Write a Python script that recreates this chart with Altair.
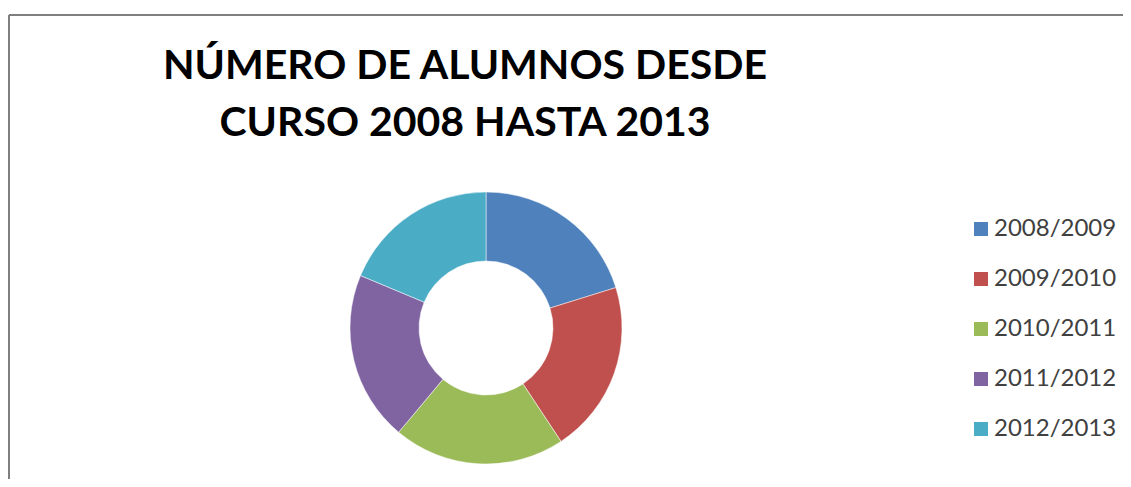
import altair as alt
import pandas as pd

cursos = ["2008/2009", "2009/2010", "2010/2011", "2011/2012", "2012/2013"]
alumnos = [202, 205, 204, 202, 187]
colores = ["#4F81BD", "#C0504D", "#9BBB59", "#8064A2", "#4BACC6"]
titulo = ["NÚMERO DE ALUMNOS DESDE", "CURSO 2008 HASTA 2013"]

W, H = 1114, 464

df = pd.DataFrame({"curso": cursos, "alumnos": alumnos, "orden": list(range(len(cursos)))})
borde = pd.DataFrame({"k": [0]})

dona = alt.Chart(df).mark_arc(outerRadius=136, innerRadius=67, stroke="#ffffff", strokeWidth=0.5).encode(
    theta=alt.Theta("alumnos:Q", stack=True),
    order=alt.Order("orden:Q"),
    color=alt.Color(
        "curso:N",
        scale=alt.Scale(domain=cursos, range=colores),
        legend=alt.Legend(
            title=None,
            orient="none",
            legendX=960,
            legendY=202,
            symbolType="square",
            symbolSize=196,
            symbolStrokeWidth=0,
            labelFont="Lato",
            labelFontSize=24,
            labelColor="#404040",
            labelOffset=1,
            rowPadding=26,
            padding=0,
        ),
    ),
    x=alt.value(477),
    y=alt.value(313),
)

titulo_capa = alt.Chart(borde).mark_text(
    font="Lato",
    fontSize=41,
    fontWeight="bold",
    color="#000000",
    align="center",
    baseline="alphabetic",
    lineHeight=57,
).encode(
    x=alt.value(456),
    y=alt.value(64),
    text=alt.value(titulo),
)

borde_sup = alt.Chart(borde).mark_rule(color="#7f7f7f", strokeWidth=2).encode(
    x=alt.value(0), x2=alt.value(W), y=alt.value(0)
)
borde_izq = alt.Chart(borde).mark_rule(color="#7f7f7f", strokeWidth=2).encode(
    x=alt.value(0), y=alt.value(0), y2=alt.value(H)
)

chart = alt.layer(borde_sup, borde_izq, dona, titulo_capa).properties(
    width=W,
    height=H,
    padding={"left": 1, "top": 7, "right": 0, "bottom": 0},
    autosize=alt.AutoSizeParams(type="none"),
).configure_view(
    stroke=None,
).configure(background="#ffffff")

chart.save("out.html", embed_options={"renderer": "svg", "actions": False})
